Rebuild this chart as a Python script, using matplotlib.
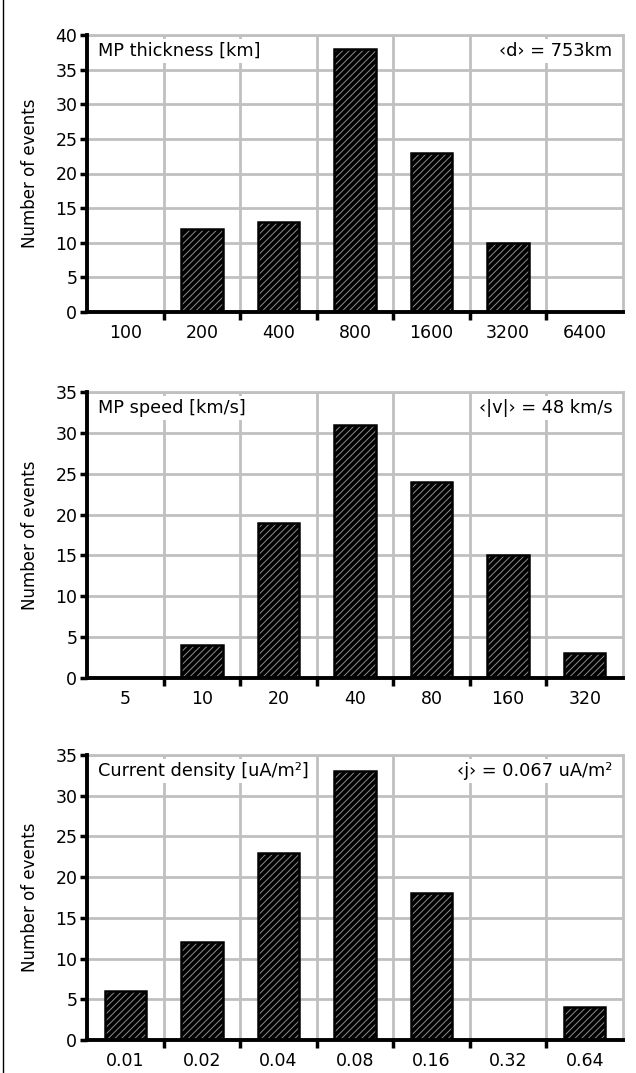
import matplotlib
matplotlib.use("Agg")
import matplotlib.pyplot as plt
import numpy as np

# histogram counts
thick_bins = ["100", "200", "400", "800", "1600", "3200", "6400"]
thick_counts = [0, 12, 13, 38, 23, 10, 0]
speed_bins = ["5", "10", "20", "40", "80", "160", "320"]
speed_counts = [0, 4, 19, 31, 24, 15, 3]
jdens_bins = ["0.01", "0.02", "0.04", "0.08", "0.16", "0.32", "0.64"]
jdens_counts = [6, 12, 23, 33, 18, 0, 4]

panels = [
    (thick_bins, thick_counts, 40, "MP thickness [km]", "‹d› = 753km"),
    (speed_bins, speed_counts, 35, "MP speed [km/s]", "‹|v|› = 48 km/s"),
    (jdens_bins, jdens_counts, 35, "Current density [uA/m²]", "‹j› = 0.067 uA/m²"),
]

W, H = 636, 1073
fig = plt.figure(figsize=(W / 100, H / 100), dpi=100)
plt.rcParams["hatch.linewidth"] = 0.7
boxes = [(35, 312), (392, 678), (755, 1040)]  # top/bottom pixel rows
x0, x1 = 87, 623

for (cats, vals, ymax, left_txt, right_txt), (top, bot) in zip(panels, boxes):
    ax = fig.add_axes([x0 / W, 1 - bot / H, (x1 - x0) / W, (bot - top) / H])
    x = np.arange(len(cats))
    ax.bar(x, vals, 0.54, color="black", edgecolor="#8c8c8c", hatch="/////", lw=0, zorder=3)
    ax.bar(x, vals, 0.54, fill=False, edgecolor="black", lw=1.8, zorder=4)
    ax.set_xlim(-0.5, len(cats) - 0.5)
    ax.set_ylim(0, ymax)
    ax.set_yticks(np.arange(0, ymax + 1, 5))
    ax.set_xticks(x)
    ax.set_xticklabels(cats, fontsize=12.5)
    ax.set_xticks(np.arange(0.5, len(cats) - 0.5), minor=True)
    ax.tick_params(axis="x", which="major", length=0, pad=9)
    ax.tick_params(axis="x", which="minor", length=6, width=2.5, direction="out")
    ax.tick_params(axis="y", length=5, width=2.5, labelsize=12.5, pad=2)
    ax.grid(True, axis="y", color="#c0c0c0", lw=2, zorder=0)
    ax.grid(True, axis="x", which="minor", color="#c0c0c0", lw=2, zorder=0)
    for s in ["top", "right"]:
        ax.spines[s].set_color("#c0c0c0")
        ax.spines[s].set_linewidth(2)
    for s in ["left", "bottom"]:
        ax.spines[s].set_linewidth(2.8)
        ax.spines[s].set_zorder(5)
    ax.set_ylabel("Number of events", fontsize=12, labelpad=12)
    ax.text(0.02, 0.975, left_txt, transform=ax.transAxes, ha="left", va="top", fontsize=12.8,
            bbox=dict(facecolor="white", edgecolor="none", pad=2), zorder=6)
    ax.text(0.98, 0.975, right_txt, transform=ax.transAxes, ha="right", va="top", fontsize=12.8,
            bbox=dict(facecolor="white", edgecolor="none", pad=2), zorder=6)

# thin frame line on the left edge
fig.add_artist(plt.Line2D([0.004, 0.004], [0, 1], transform=fig.transFigure, color="black", lw=1))

fig.savefig("out.png", dpi=100)
